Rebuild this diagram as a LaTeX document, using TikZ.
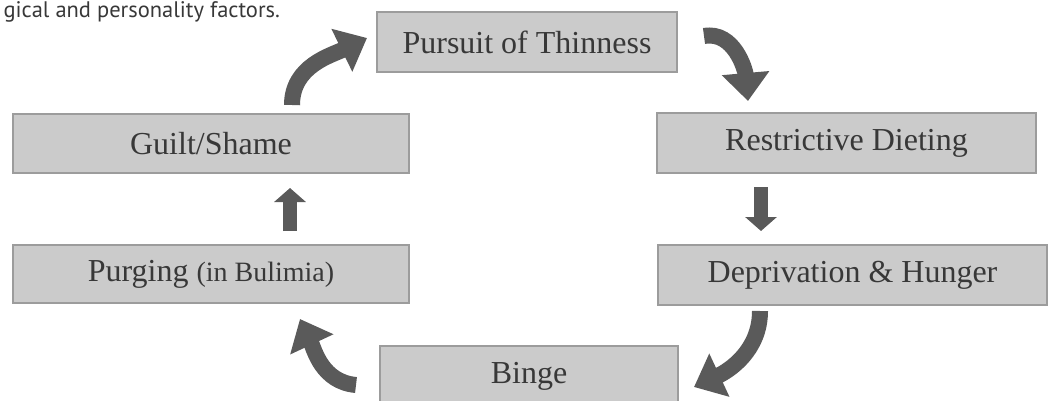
\documentclass[tikz,border=0pt]{standalone}
\usepackage{fontspec}
\setmainfont{Liberation Serif}
\newfontfamily\captionfont{PT Sans}
\usetikzlibrary{arrows.meta}
\definecolor{boxgray}{HTML}{CBCBCB}
\definecolor{boxline}{HTML}{9C9C9C}
\definecolor{arrowgray}{HTML}{5A5A5A}
\definecolor{textgray}{HTML}{383838}
\tikzset{
  stage/.style={
    shape=rectangle,
    draw=boxline,
    line width=2pt,
    fill=boxgray,
    text=textgray,
    inner sep=0pt,
    minimum height=60pt,
    font=\fontsize{32}{36}\selectfont
  },
  curved arrow/.style={
    draw=arrowgray,
    line width=16pt,
    -{Triangle[length=28pt,width=46pt]}
  },
  straight arrow/.style={
    draw=arrowgray,
    line width=14pt,
    -{Triangle[length=14pt,width=31pt]}
  }
}

\begin{document}
\begin{tikzpicture}[x=1pt,y=1pt]
\useasboundingbox (0,0) rectangle (1049,-401);

\node [anchor=base west, text=textgray, font=\captionfont\fontsize{22.5}{26}\selectfont]
  (caption) at (0,-18) {gical and personality factors.};

% the six stages of the cycle
\node [stage, minimum width=300pt] (thin) at (527,-42) {Pursuit of Thinness};
\node [stage, minimum width=379pt] (diet) at (846.5,-143) {Restrictive Dieting};
\node [stage, minimum width=389pt] (hunger) at (852.5,-275) {Deprivation \& Hunger};
\node [stage, minimum width=298pt] (binge) at (529,-376) {Binge};
\node [stage, minimum width=396pt, minimum height=58pt] (purge) at (211,-274)
  {Purging {\fontsize{28}{32}\selectfont(in Bulimia)}};
\node [stage, minimum width=396pt, minimum height=59pt] (guilt) at (211,-143.5) {Guilt/Shame};

% arrows round the cycle
\draw [curved arrow] ([shift={(26,6)}]thin.east)
  to[out=10,in=95] ([shift={(-98.5,11)}]diet.north);
\draw [straight arrow] ([shift={(-85.5,-13)}]diet.south)
  -- ([shift={(-91.5,13)}]hunger.north);
\draw [curved arrow] ([shift={(-92.5,-5)}]hunger.south)
  to[out=-90,in=25] ([shift={(15,-11)}]binge.east);
\draw [curved arrow] ([shift={(-23,-9)}]binge.west)
  to[out=175,in=-65] ([shift={(89,-15)}]purge.south);
\draw [straight arrow] ([shift={(79,13)}]purge.north)
  -- ([shift={(79,-14)}]guilt.south);
\draw [curved arrow] ([shift={(81,8)}]guilt.north)
  to[out=90,in=206] ([shift={(-9,4)}]thin.west);

\end{tikzpicture}
\end{document}
